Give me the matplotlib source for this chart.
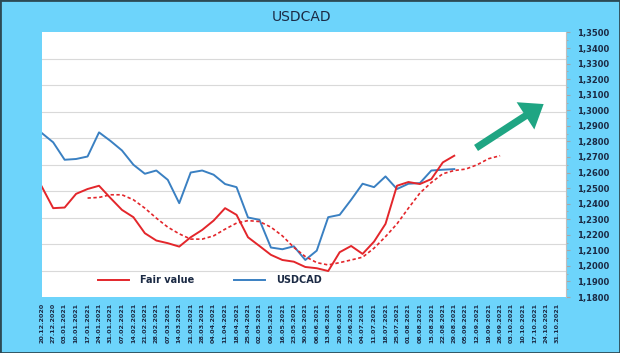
import numpy as np
import pandas as pd
import matplotlib
matplotlib.use("Agg")
import matplotlib.pyplot as plt
from matplotlib.lines import Line2D
from matplotlib.patches import Rectangle
from matplotlib.ticker import FuncFormatter

# fechas semanales del eje x
fechas = pd.date_range("2020-12-20", "2021-10-31", freq="7D").strftime("%d.%m.%Y").tolist()

# cotizacion USDCAD (semanal)
usdcad = [1.2854, 1.2794, 1.2682, 1.2687, 1.2703, 1.2858, 1.2803, 1.2742, 1.2650, 1.2592,
          1.2613, 1.2553, 1.2403, 1.2600, 1.2613, 1.2586, 1.2526, 1.2506, 1.2311, 1.2296,
          1.2118, 1.2107, 1.2126, 1.2038, 1.2098, 1.2313, 1.2328, 1.2425, 1.2528, 1.2506,
          1.2575, 1.2494, 1.2528, 1.2532, 1.2613, 1.2618, 1.2622]

# valor justo
fair_value = [1.2510, 1.2371, 1.2375, 1.2463, 1.2494, 1.2515, 1.2436, 1.2360, 1.2313, 1.2210,
              1.2163, 1.2146, 1.2124, 1.2184, 1.2231, 1.2291, 1.2371, 1.2328, 1.2184, 1.2128,
              1.2071, 1.2038, 1.2027, 1.1993, 1.1985, 1.1967, 1.2088, 1.2128, 1.2077, 1.2156,
              1.2270, 1.2515, 1.2539, 1.2526, 1.2558, 1.2665, 1.2708]

# valor justo adelantado (linea discontinua), empieza en la semana 4
fair_lead_inicio = 4
fair_lead = [1.2436, 1.2440, 1.2457, 1.2457, 1.2425, 1.2371, 1.2307, 1.2249, 1.2206, 1.2172,
             1.2172, 1.2193, 1.2236, 1.2275, 1.2291, 1.2285, 1.2249, 1.2193, 1.2119, 1.2060,
             1.2021, 1.2006, 1.2021, 1.2038, 1.2056, 1.2114, 1.2188, 1.2270, 1.2371, 1.2468,
             1.2536, 1.2592, 1.2613, 1.2622, 1.2650, 1.2689, 1.2708]

# flecha de tendencia (indice semana, valor)
flecha_desde = (37.9, 1.2758)
flecha_hasta = (43.8, 1.3040)

fondo = "#6dd4fb"
rojo = "#e3262b"
azul = "#3a80c2"
texto = "#1b2a44"

fig = plt.figure(figsize=(6.2, 3.53), dpi=100, facecolor=fondo)
ax = fig.add_axes([0.0673, 0.1586, 0.9129 - 0.0673, 0.908 - 0.1586])
ax.set_facecolor("white")

ymin, ymax = 1.18, 1.35
ax.set_ylim(ymin, ymax)
ax.set_xlim(0, 45.75)

# lineas de cuadricula (10 divisiones iguales)
for k in range(1, 10):
    y = ymin + k * (ymax - ymin) / 10
    ax.axhline(y, color="#d9d9d9", lw=0.8, zorder=0)

x_usd = np.arange(len(usdcad))
x_fair = np.arange(len(fair_value))
x_lead = np.arange(len(fair_lead)) + fair_lead_inicio

ax.plot(x_fair, fair_value, color=rojo, lw=1.4, zorder=3)
ax.plot(x_usd, usdcad, color=azul, lw=1.4, zorder=2)
ax.plot(x_lead, fair_lead, color=rojo, lw=1.2, ls=(0, (2, 1.5)), zorder=3)

# flecha verde
ax.annotate("", xy=flecha_hasta, xytext=flecha_desde,
            arrowprops=dict(arrowstyle="simple,head_length=0.6,head_width=0.9,tail_width=0.2",
                            mutation_scale=26, facecolor="#1fa583", edgecolor="none",
                            shrinkA=0, shrinkB=0))

# eje y a la derecha
ax.yaxis.tick_right()
ax.set_yticks(np.arange(1.18, 1.3501, 0.01))
ax.set_yticks(np.arange(1.18, 1.3501, 0.005), minor=True)
ax.yaxis.set_major_formatter(FuncFormatter(lambda v, p: f"{v:.4f}".replace(".", ",")))
ax.tick_params(axis="y", which="major", length=3, color="#a6a6a6", pad=5,
               labelsize=6, labelcolor=texto)
ax.tick_params(axis="y", which="minor", length=1.5, color="#a6a6a6")
for lab in ax.get_yticklabels():
    lab.set_fontweight("bold")

ax.set_xticks(np.arange(len(fechas)))
ax.set_xticklabels(fechas, rotation=90, fontsize=4.6, fontweight="bold", color=texto)
ax.tick_params(axis="x", length=0, pad=4)

for lado in ["left", "top", "bottom"]:
    ax.spines[lado].set_visible(False)
ax.spines["right"].set_color("#bfbfbf")

handles = [Line2D([], [], color=rojo, lw=1.4), Line2D([], [], color=azul, lw=1.4)]
ax.legend(handles, ["Fair value", "USDCAD"], loc="center left", bbox_to_anchor=(0.09, 0.064),
          ncol=2, frameon=False, handlelength=3.2, handletextpad=1.2, columnspacing=4.0,
          prop={"weight": "bold", "size": 7}, labelcolor=texto)

fig.text(0.486, 0.952, "USDCAD", ha="center", va="center", fontsize=10, color=texto)

fig.patches.append(Rectangle((0, 0), 1, 1, transform=fig.transFigure, fill=False,
                             edgecolor="#2c4a55", lw=2))

plt.savefig("out.png", dpi=100, facecolor=fondo)
